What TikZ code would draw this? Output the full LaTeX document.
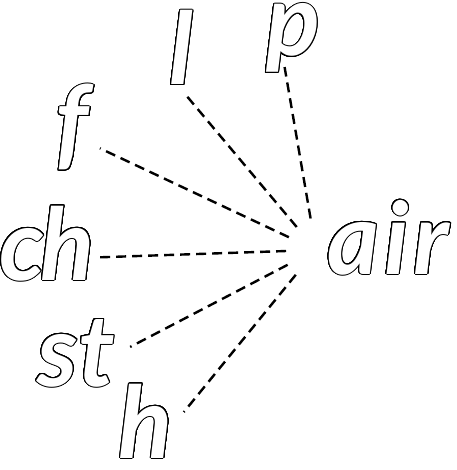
\documentclass[tikz,border=0pt]{standalone}
\usepackage{fontspec}
\setmainfont{Lato}
\usepackage{contour}
\contourlength{1.0pt}
\contournumber{32}

% hollow letters: white glyph, thin black rim
\newcommand{\hollow}[1]{{\color{white}\contour{black}{#1}}}

\tikzset{
  sound/.style={font=\fontsize{100}{110}\selectfont\bfseries\itshape, inner sep=3pt, anchor=base},
  link/.style={line width=2.4pt, dash pattern=on 10pt off 6pt},
}

\begin{document}
\begin{tikzpicture}[x=1pt,y=-1pt]

\useasboundingbox (0,0) rectangle (456,470);

\coordinate (hub) at (316,250);

\node[sound] (air) at (388,274) {\addfontfeature{LetterSpace=5}\hollow{air}};

\node[sound] (l)  at (181,85)  {\hollow{l}};
\node[sound] (p)  at (293,56)  {\hollow{p}};
\node[sound] (f)  at (72,158)  {\hollow{f}};
\node[sound] (ch) at (47,280)  {\addfontfeature{LetterSpace=-4}\hollow{ch}};
\node[sound] (st) at (76,386)  {\hollow{st}};
\node[sound] (h)  at (146,458) {\hollow{h}};

\draw[link, shorten <=30pt, shorten >=8pt]   (hub) -- (l.south);
\draw[link, shorten <=32pt, shorten >=-10pt] (hub) -- (p.-100);
\draw[link, shorten <=30pt, shorten >=9pt]   (hub) -- (f.-40);
\draw[link, shorten <=30pt, shorten >=2pt]   (hub) -- (ch.-15);
\draw[link, shorten <=32pt, shorten >=14pt]  (hub) -- (st.east);
\draw[link, shorten <=32pt, shorten >=12pt]  (hub) -- (h.east);

\end{tikzpicture}
\end{document}
